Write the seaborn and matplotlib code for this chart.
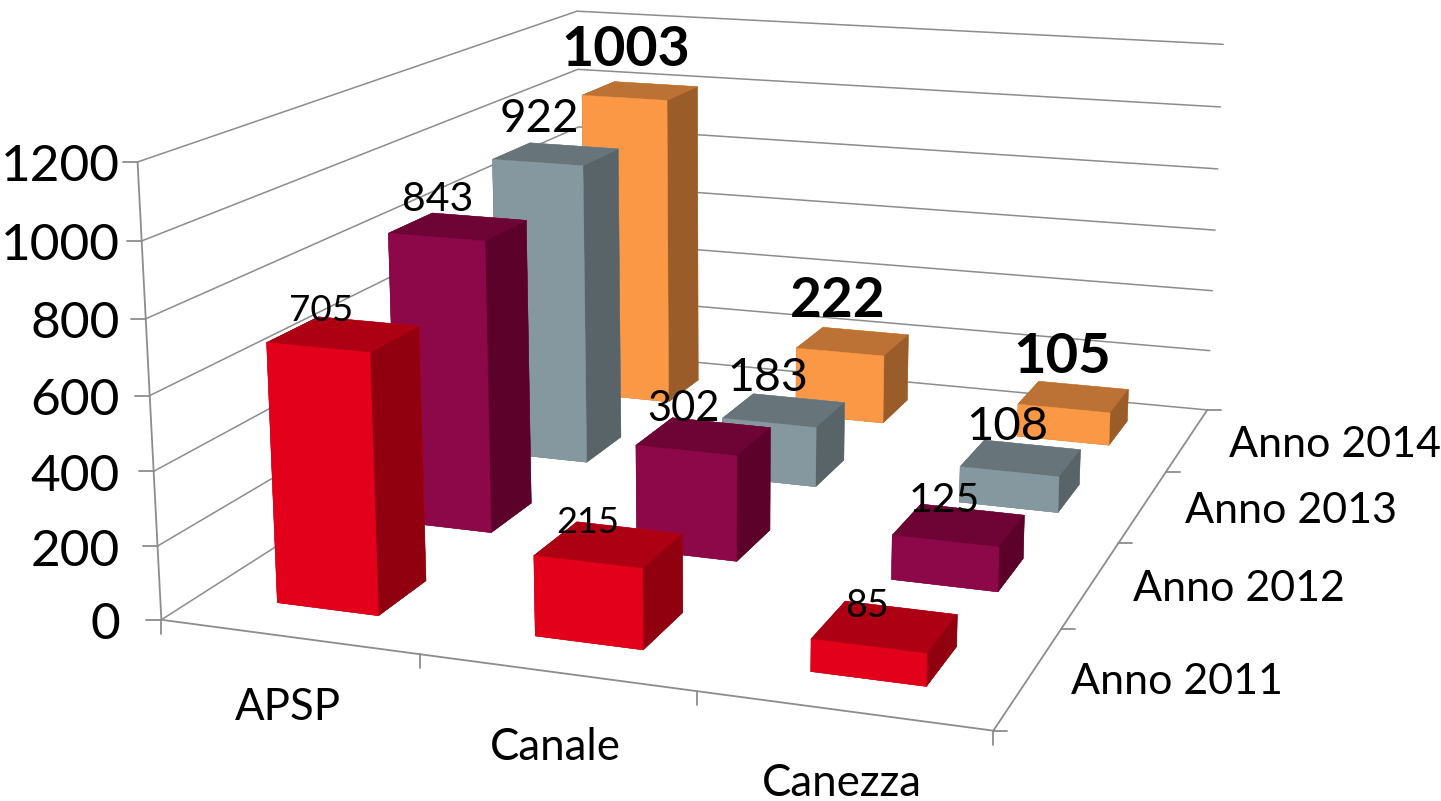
import numpy as np
import matplotlib
matplotlib.use("Agg")
import matplotlib.pyplot as plt
import seaborn as sns
from matplotlib.lines import Line2D
from matplotlib.transforms import IdentityTransform
from mpl_toolkits.mplot3d import proj3d

sns.set_theme(style="white")
plt.rcParams['font.family'] = ['Lato', 'DejaVu Sans']

categories = ["APSP", "Canale", "Canezza"]
series_names = ["Anno 2011", "Anno 2012", "Anno 2013", "Anno 2014"]
anno_2011 = [705, 215, 85]
anno_2012 = [843, 302, 125]
anno_2013 = [922, 183, 108]
anno_2014 = [1003, 222, 105]
z_ticks = [0, 200, 400, 600, 800, 1000, 1200]

# front, top, side for each year
face_colors = [
    ("#e2001a", "#ad0013", "#91000f"),
    ("#8c0848", "#6d0435", "#5c022a"),
    ("#86989f", "#67757b", "#596469"),
    ("#fa9846", "#bc7135", "#9a5d2a"),
]
# label sizes (pt) and pixel offsets from the centre of the bar top
label_sizes = [[26.5, 26, 27], [29.5, 30, 29.5], [33, 33.5, 34], [40, 39.5, 40.5]]
label_offsets = [
    [(-23, 24), (-21, 22), (-18, 21)],
    [(-20, 27), (-20, 27), (-15, 25)],
    [(-17, 35), (-16, 32), (-14, 31)],
    [(-15, 41), (-15, 40), (-12, 40)],
]
category_drop = [71, 75, 73]
GRID = "#8c8c8c"
W, H = 1441, 801

fig = plt.figure(figsize=(W / 100, H / 100), dpi=100)
ax = fig.add_subplot(projection="3d", computed_zorder=False)
ax.set_xlim(0, 3)
ax.set_ylim(0, 4)
ax.set_zlim(0, 1200)
ax.view_init(elev=13.987, azim=-70.90, roll=-0.1065)
ax.set_proj_type("persp", focal_length=0.4011)
ax.set_box_aspect((1, 1.2866, 0.5449))
ax.set_axis_off()

# size the axes so the projected box lands where the reference has it
scale, tx, ty = 6930.34, 745.9, 303.0
ax.set_position([0, 0, 1, 1])
ax.apply_aspect()
p0, p1 = ax.transData.transform([(0, 0), (1, 1)])
side = ax.get_position().width * W * scale / (p1[0] - p0[0])
ax.set_position([0, 0, side / W, side / H])
ax.apply_aspect()
p0 = ax.transData.transform((0, 0))
pos = ax.get_position()
ax.set_position([pos.x0 + (tx - p0[0]) / W, pos.y0 + (H - ty - p0[1]) / H, side / W, side / H])
ax.apply_aspect()
M = ax.get_proj()


def to_px(x, y, z):
    a, b, _ = proj3d.proj_transform(x, y, z, M)
    return ax.transData.transform((a, b))


def stub(x, y, z, dx, dy):
    a, b = to_px(x, y, z)
    fig.add_artist(Line2D([a, a + dx], [b, b + dy], color=GRID, lw=1.3, transform=IdentityTransform()))


# walls and floor edges
for z in z_ticks:
    ax.plot([0, 0, 3], [0, 4, 4], [z, z, z], color=GRID, lw=1.1, zorder=1)
    stub(0, 0, z, -15, 0)
ax.plot([0, 0], [0, 0], [0, 1200], color=GRID, lw=1.3, zorder=1)
ax.plot([0, 3, 3], [0, 0, 4], [0, 0, 0], color=GRID, lw=1.3, zorder=1)
for i in range(4):
    stub(i, 0, 0, 0, -14)
for j in range(5):
    stub(3, j, 0, 14, 0)

# bars, back to front
all_values = [anno_2011, anno_2012, anno_2013, anno_2014]
order = 2
for j in range(3, -1, -1):
    front, top, side_c = face_colors[j]
    cols = [top, top, front, front, side_c, side_c]
    for i, v in enumerate(all_values[j]):
        ax.bar3d(i + 0.3, j + 0.3, 0, 0.4, 0.4, v, color=cols, edgecolor=cols, linewidth=0.3,
                 shade=False, zorder=order)
        order += 1

# data labels
for j, values in enumerate(all_values):
    for i, v in enumerate(values):
        a, b = to_px(i + 0.5, j + 0.5, v)
        dx, dy = label_offsets[j][i]
        fig.text(a + dx, b + dy, str(v), transform=IdentityTransform(), ha="center", va="center",
                 fontsize=label_sizes[j][i], color="black",
                 fontweight="bold" if j == 3 else "normal", zorder=50)

# axis labels
for z in z_ticks:
    a, b = to_px(0, 0, z)
    fig.text(120, b - 5.5, str(z), transform=IdentityTransform(), ha="right", va="center",
             fontsize=37, color="black")
for i, name in enumerate(categories):
    a, b = to_px(i + 0.5, 0, 0)
    fig.text(a - 1, b - category_drop[i], name, transform=IdentityTransform(), ha="center", va="center",
             fontsize=31.5, color="black")
for j, name in enumerate(series_names):
    a, b = to_px(3, j + 0.5, 0)
    fig.text(a + 42, b - 5, name, transform=IdentityTransform(), ha="left", va="center",
             fontsize=31, color="black")

fig.savefig("out.png", dpi=100)
